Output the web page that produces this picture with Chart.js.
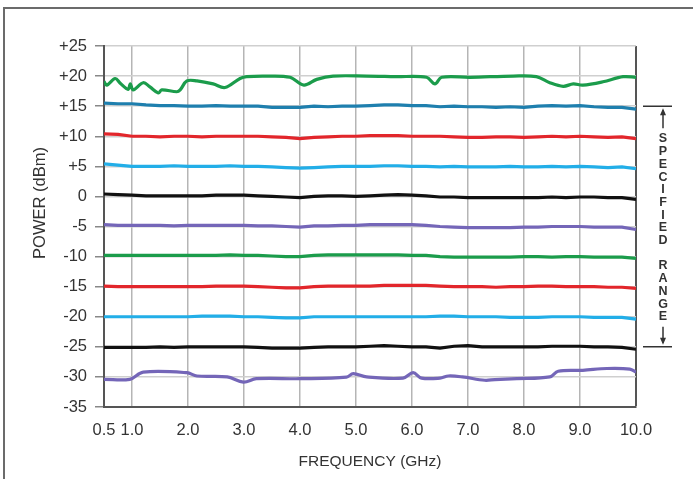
<!DOCTYPE html>
<html>
<head>
<meta charset="utf-8">
<script src="https://cdn.jsdelivr.net/npm/chart.js@4"></script>
<style>
  html, body { margin: 0; padding: 0; background: #fff; }
  canvas { display: block; }
</style>
</head>
<body>
<canvas id="powerChart" width="693" height="479"></canvas>
<script>
// Data
const freq = [0.5, 0.75, 1.0, 1.25, 1.5, 1.75, 2.0, 2.25, 2.5, 2.75, 3.0, 3.25, 3.5, 3.75, 4.0,
  4.25, 4.5, 4.75, 5.0, 5.25, 5.5, 5.75, 6.0, 6.25, 6.5, 6.75, 7.0, 7.25, 7.5, 7.75, 8.0,
  8.25, 8.5, 8.75, 9.0, 9.25, 9.5, 9.75, 10.0];

const p15 = [15.5, 15.4, 15.4, 15.2, 15.1, 15.1, 15.0, 15.0, 15.1, 15.0, 15.0, 15.0, 14.8, 14.8, 14.8,
  15.0, 14.9, 15.0, 15.0, 15.1, 15.2, 15.2, 15.1, 15.1, 14.9, 15.0, 14.9, 14.9, 14.8, 14.9, 14.8,
  15.0, 15.1, 15.0, 15.1, 14.9, 14.8, 14.8, 14.5];
const p10 = [10.4, 10.3, 10.0, 10.0, 9.9, 10.0, 10.0, 9.9, 10.0, 10.0, 10.0, 10.0, 9.9, 9.8, 9.6,
  9.8, 9.9, 10.0, 10.0, 10.1, 10.1, 10.1, 10.0, 10.0, 10.0, 9.9, 9.8, 9.8, 9.9, 9.9, 9.8,
  9.9, 10.0, 9.9, 10.0, 9.9, 9.8, 9.9, 9.6];
const p5 = [5.4, 5.2, 5.0, 5.0, 5.0, 5.1, 5.0, 5.0, 5.0, 5.1, 5.0, 5.0, 4.9, 4.8, 4.7,
  4.8, 4.9, 5.0, 5.0, 5.0, 5.1, 5.1, 5.0, 5.0, 4.9, 5.0, 4.9, 4.9, 4.9, 5.0, 4.9,
  4.9, 5.0, 4.9, 5.0, 4.9, 4.8, 4.9, 4.6];
const p0 = [0.4, 0.3, 0.2, 0.1, 0.1, 0.1, 0.1, 0.1, 0.2, 0.2, 0.2, 0.1, 0.0, -0.1, -0.2,
  0.0, 0.1, 0.1, 0.0, 0.1, 0.2, 0.3, 0.2, 0.1, -0.1, -0.1, -0.2, -0.2, -0.2, -0.2, -0.2,
  -0.2, -0.1, -0.2, -0.1, -0.1, -0.2, -0.2, -0.5];
const m5 = [-4.7, -4.8, -4.8, -4.8, -4.8, -4.9, -4.8, -4.8, -4.8, -4.8, -4.8, -4.9, -4.9, -5.0, -5.1,
  -4.9, -4.9, -4.8, -4.8, -4.7, -4.7, -4.7, -4.7, -4.8, -5.0, -5.1, -5.2, -5.2, -5.2, -5.2, -5.1,
  -5.1, -5.0, -5.0, -5.0, -5.1, -5.1, -5.1, -5.5];
const m10 = [-9.8, -9.8, -9.8, -9.8, -9.8, -9.8, -9.8, -9.8, -9.8, -9.7, -9.8, -9.8, -9.9, -10.0, -10.0,
  -9.8, -9.7, -9.7, -9.7, -9.7, -9.7, -9.7, -9.8, -9.8, -10.0, -10.1, -10.1, -10.1, -10.1, -10.1, -10.0,
  -10.0, -10.1, -10.0, -10.0, -10.1, -10.1, -10.1, -10.3];
const m15 = [-14.9, -15.0, -15.0, -15.0, -15.0, -15.0, -15.0, -15.0, -14.9, -14.9, -14.9, -15.0, -15.1, -15.2, -15.2,
  -15.0, -14.9, -14.9, -14.9, -14.9, -14.8, -14.8, -14.8, -14.8, -14.9, -15.0, -15.0, -15.0, -15.1, -15.0, -15.0,
  -14.9, -14.9, -15.0, -15.0, -15.0, -15.1, -15.1, -15.3];
const m20 = [-20.0, -20.0, -20.0, -20.0, -20.0, -20.0, -20.0, -19.9, -19.9, -19.9, -20.0, -20.0, -20.1, -20.2, -20.2,
  -20.0, -20.0, -20.0, -20.0, -20.0, -20.0, -20.0, -20.0, -20.0, -19.9, -19.9, -20.0, -20.0, -20.0, -20.1, -20.1,
  -20.1, -20.0, -20.0, -20.0, -20.1, -20.1, -20.1, -20.4];
const m25 = [-25.1, -25.1, -25.1, -25.1, -25.0, -25.1, -25.0, -25.0, -25.0, -25.0, -25.0, -25.1, -25.2, -25.2, -25.2,
  -25.1, -25.0, -25.0, -25.0, -24.9, -24.8, -24.9, -25.0, -25.0, -25.2, -24.9, -24.8, -25.0, -25.0, -25.0, -25.0,
  -25.0, -24.9, -24.9, -24.9, -25.0, -25.0, -25.1, -25.4];

// +20 dBm trace (own frequency points)
const p20Freq = [0.5, 0.55, 0.7, 0.79, 0.93, 0.97, 1.02, 1.2, 1.32, 1.47, 1.53, 1.8, 1.86, 1.98, 2.16,
  2.45, 2.66, 2.93, 3.05, 3.4, 3.82, 4.07, 4.3, 4.59, 5.19, 5.7, 6.26, 6.41, 6.53, 7.04, 7.81,
  8.22, 8.46, 8.7, 8.88, 9.05, 9.41, 9.77, 10.0];
const p20 = [19.1, 18.5, 19.6, 18.8, 17.8, 18.7, 17.7, 18.9, 18.2, 17.2, 17.7, 17.4, 17.7, 19.2, 19.2,
  18.7, 18.1, 19.6, 19.9, 20.0, 19.8, 18.5, 19.45, 20.0, 20.0, 19.9, 19.8, 18.7, 19.8, 19.8, 20.0,
  19.9, 18.9, 18.3, 18.7, 18.5, 19.05, 19.9, 19.8];

// -30 dBm trace (own frequency points)
const m30Freq = [0.5, 0.96, 1.2, 1.98, 2.16, 2.7, 2.99, 3.22, 4.0, 4.83, 4.95, 5.19, 5.84, 6.02,
  6.17, 6.5, 6.65, 6.9, 7.3, 7.48, 7.87, 8.46, 8.61, 9.05, 9.48, 9.89, 10.0];
const m30 = [-30.4, -30.4, -29.2, -29.3, -29.85, -30.0, -30.85, -30.3, -30.3, -30.05, -29.45, -30.0, -30.2, -29.3,
  -30.2, -30.2, -29.85, -30.0, -30.55, -30.45, -30.3, -30.0, -29.05, -28.9, -28.6, -28.7, -29.2];

const xTicks = [0.5, 1, 2, 3, 4, 5, 6, 7, 8, 9, 10];

const GREEN = "#1b9c4b";
const TEAL = "#1e7fae";
const RED = "#e2262b";
const CYAN = "#22aee8";
const BLACK = "#111111";
const PURPLE = "#7466b8";

function toPoints(xs, ys) {
  return ys.map((y, i) => ({ x: xs[i], y: y }));
}

function trace(xs, ys, color, smooth) {
  return {
    data: toPoints(xs, ys),
    borderColor: color,
    borderWidth: 3.2,
    pointRadius: 0,
    fill: false,
    tension: smooth ? 0.35 : 0,
  };
}

// Frame, axis titles and "SPECIFIED RANGE" marker
const decorations = {
  id: "decorations",
  beforeDraw(chart) {
    const ctx = chart.ctx;
    ctx.save();
    ctx.strokeStyle = "#6b6b6b";
    ctx.lineWidth = 2;
    ctx.beginPath();
    ctx.moveTo(4, 479);
    ctx.lineTo(4, 8);
    ctx.lineTo(693, 8);
    ctx.stroke();
    ctx.restore();
  },
  afterDraw(chart) {
    const ctx = chart.ctx;
    const y = chart.scales.y;
    const area = chart.chartArea;
    ctx.save();

    ctx.fillStyle = "#333";
    ctx.font = "15.5px Arial, 'Liberation Sans', sans-serif";
    ctx.textAlign = "center";
    ctx.textBaseline = "middle";
    ctx.fillText("FREQUENCY (GHz)", (area.left + area.right) / 2, 462);

    ctx.translate(40, 203);
    ctx.rotate(-Math.PI / 2);
    ctx.font = "16.5px Arial, 'Liberation Sans', sans-serif";
    ctx.fillText("POWER (dBm)", 0, 0);
    ctx.setTransform(1, 0, 0, 1, 0, 0);

    const yTop = y.getPixelForValue(15);
    const yBot = y.getPixelForValue(-25);
    const ax = 663;
    ctx.strokeStyle = "#333";
    ctx.fillStyle = "#333";
    ctx.lineWidth = 1.5;
    ctx.beginPath();
    ctx.moveTo(643, yTop); ctx.lineTo(672, yTop);
    ctx.moveTo(643, yBot); ctx.lineTo(672, yBot);
    ctx.moveTo(ax, yTop + 4); ctx.lineTo(ax, yTop + 22);
    ctx.moveTo(ax, yBot - 4); ctx.lineTo(ax, yBot - 20);
    ctx.stroke();
    ctx.beginPath();
    ctx.moveTo(ax, yTop + 2); ctx.lineTo(ax - 3, yTop + 9); ctx.lineTo(ax + 3, yTop + 9); ctx.closePath();
    ctx.moveTo(ax, yBot - 2); ctx.lineTo(ax - 3, yBot - 9); ctx.lineTo(ax + 3, yBot - 9); ctx.closePath();
    ctx.fill();

    ctx.font = "bold 12.5px Arial, 'Liberation Sans', sans-serif";
    const letters = "SPECIFIED RANGE";
    for (let i = 0; i < letters.length; i++) {
      ctx.fillText(letters[i], ax, 139 + i * 12.7);
    }
    ctx.restore();
  },
};

const tickFont = { family: "Arial, 'Liberation Sans', sans-serif", size: 16.5 };

new Chart(document.getElementById("powerChart"), {
  type: "line",
  data: {
    datasets: [
      trace(p20Freq, p20, GREEN, true),
      trace(freq, p15, TEAL),
      trace(freq, p10, RED),
      trace(freq, p5, CYAN),
      trace(freq, p0, BLACK),
      trace(freq, m5, PURPLE),
      trace(freq, m10, GREEN),
      trace(freq, m15, RED),
      trace(freq, m20, CYAN),
      trace(freq, m25, BLACK),
      trace(m30Freq, m30, PURPLE, true),
    ],
  },
  options: {
    responsive: false,
    animation: false,
    devicePixelRatio: 1,
    layout: { padding: { top: 46, right: 57, left: 0, bottom: 0 } },
    plugins: { legend: { display: false }, tooltip: { enabled: false } },
    scales: {
      x: {
        type: "linear",
        min: 0.5,
        max: 10,
        afterBuildTicks: (s) => { s.ticks = xTicks.map((v) => ({ value: v })); },
        afterFit: (s) => { s.height = 72; },
        ticks: {
          autoSkip: false,
          maxRotation: 0,
          padding: 14,
          color: "#333",
          font: tickFont,
          callback: (v) => Number(v).toFixed(1),
        },
        grid: {
          drawTicks: false,
          color: (c) => (c.tick && c.tick.value === 10 ? "#555" : "#b5b5b5"),
          lineWidth: (c) => (c.tick && c.tick.value === 10 ? 2 : 1.5),
        },
        border: { color: "#555", width: 2 },
      },
      y: {
        min: -35,
        max: 25,
        afterFit: (s) => { s.width = 104; },
        ticks: {
          stepSize: 5,
          padding: 8,
          color: "#333",
          font: tickFont,
          callback: (v) => (v > 0 ? "+" + v : String(v)),
        },
        grid: {
          color: "#cfcfcf",
          lineWidth: 1.5,
          tickLength: 9,
          tickColor: "#888",
        },
        border: { color: "#555", width: 2 },
      },
    },
  },
  plugins: [decorations],
});
</script>
</body>
</html>
